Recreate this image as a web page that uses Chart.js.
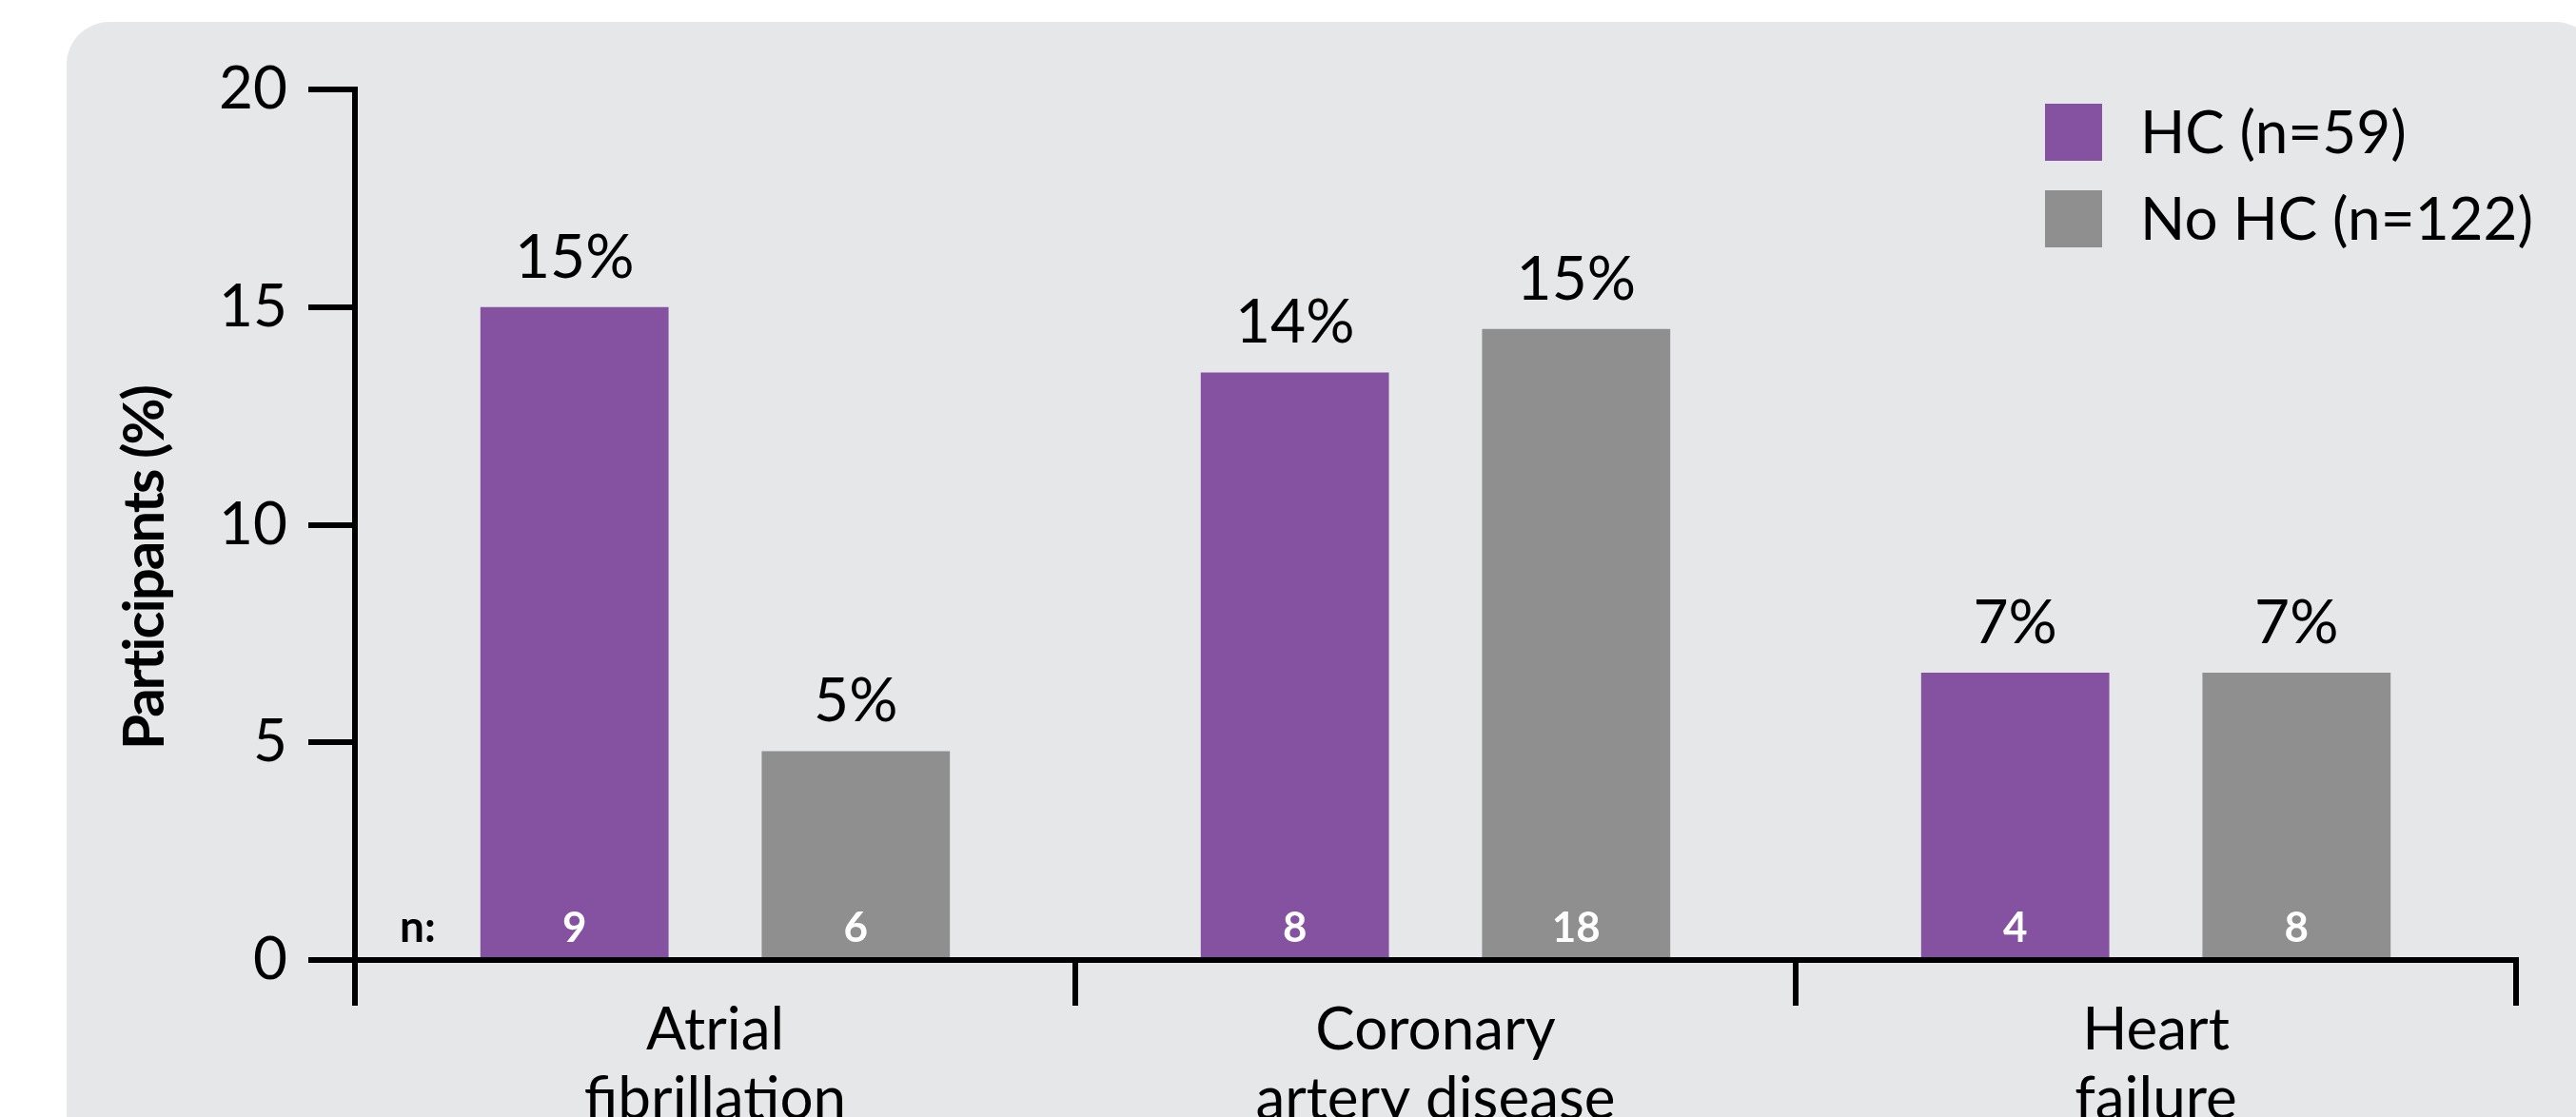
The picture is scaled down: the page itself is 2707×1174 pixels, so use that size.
<!DOCTYPE html>
<html>
<head>
<meta charset="utf-8">
<title>Participants by HC status</title>
<script src="https://cdn.jsdelivr.net/npm/chart.js@4.4.1/dist/chart.umd.min.js"></script>
<style>
    html, body { margin: 0; padding: 0; background: #fff; }
    #wrap { width: 2707px; height: 1174px; }
</style>
</head>
<body>
<div id="wrap"><canvas id="chart" width="2707" height="1174"></canvas></div>
<script>
"use strict";

// Chart data
var categories = [['Atrial', 'fibrillation'], ['Coronary', 'artery disease'], ['Heart', 'failure']];
var seriesNames = ['HC (n=59)', 'No HC (n=122)'];
var hcPercent = [15.0, 13.5, 6.6];
var noHcPercent = [4.8, 14.5, 6.6];
var hcCounts = [9, 8, 4];
var noHcCounts = [6, 18, 8];
var yTicks = [0, 5, 10, 15, 20];

var PURPLE = '#8552a1';
var GREY = '#8f8f8f';
var PANEL = '#e6e7e9';
var FONT = 'Lato';

// Rounded grey panel behind everything
var panelPlugin = {
    id: 'panel',
    beforeDraw: function (chart) {
        var ctx = chart.ctx;
        ctx.save();
        ctx.fillStyle = '#fff';
        ctx.fillRect(0, 0, chart.width, chart.height);
        ctx.fillStyle = PANEL;
        ctx.beginPath();
        ctx.roundRect(70, 23, 2660, 1300, 45);
        ctx.fill();
        ctx.restore();
    }
};

// Value labels, counts, axis title and legend
var labelsPlugin = {
    id: 'labels',
    afterDraw: function (chart) {
        var ctx = chart.ctx;
        var area = chart.chartArea;
        var counts = [hcCounts, noHcCounts];
        ctx.save();
        ctx.textAlign = 'center';
        ctx.textBaseline = 'alphabetic';

        chart.data.datasets.forEach(function (ds, di) {
            var meta = chart.getDatasetMeta(di);
            meta.data.forEach(function (bar, i) {
                ctx.fillStyle = '#000';
                ctx.font = '64px ' + FONT;
                ctx.fillText(Math.round(ds.data[i]) + '%', bar.x, bar.y - 31);
                ctx.fillStyle = '#fff';
                ctx.font = 'bold 44px ' + FONT;
                ctx.fillText(String(counts[di][i]), bar.x, bar.base - 16);
            });
        });

        // "n:" marker left of the first bar
        var first = chart.getDatasetMeta(0).data[0];
        var firstLeft = first.x - first.width / 2;
        ctx.fillStyle = '#000';
        ctx.font = 'bold 46px ' + FONT;
        ctx.fillText('n:', (area.left + firstLeft) / 2, first.base - 16);

        // y axis title
        ctx.save();
        ctx.translate(172, 597);
        ctx.rotate(-Math.PI / 2);
        ctx.font = 'bold 60px ' + FONT;
        if ('letterSpacing' in ctx) {
            ctx.letterSpacing = '-2px';
        }
        ctx.fillText('Participants (%)', 0, 0);
        ctx.restore();

        // legend
        ctx.textAlign = 'left';
        ctx.font = '62px ' + FONT;
        chart.data.datasets.forEach(function (ds, di) {
            var top = 109 + di * 91;
            ctx.fillStyle = ds.backgroundColor;
            ctx.fillRect(2149, top, 60, 60);
            ctx.fillStyle = '#000';
            ctx.fillText(ds.label, 2249, top + 52);
        });
        ctx.restore();
    }
};

function buildChart() {
    new Chart(document.getElementById('chart'), {
        type: 'bar',
        data: {
            labels: categories,
            datasets: [{
                label: seriesNames[0],
                data: hcPercent,
                backgroundColor: PURPLE,
                borderWidth: 0,
                categoryPercentage: 0.781,
                barPercentage: 0.669
            }, {
                label: seriesNames[1],
                data: noHcPercent,
                backgroundColor: GREY,
                borderWidth: 0,
                categoryPercentage: 0.781,
                barPercentage: 0.669
            }]
        },
        options: {
            responsive: false,
            animation: false,
            layout: {padding: {top: 94, right: 63, bottom: 0, left: 0}},
            plugins: {
                legend: {display: false},
                tooltip: {enabled: false}
            },
            scales: {
                x: {
                    z: 1,
                    offset: true,
                    grid: {
                        offset: true,
                        drawOnChartArea: false,
                        drawTicks: true,
                        tickLength: 48,
                        tickWidth: 6,
                        tickColor: '#000',
                        color: '#000',
                        lineWidth: 6
                    },
                    border: {display: true, color: '#000', width: 6},
                    ticks: {
                        color: '#000',
                        font: {family: FONT, size: 62, lineHeight: 1.18},
                        padding: -11,
                        maxRotation: 0,
                        autoSkip: false
                    },
                    afterFit: function (scale) { scale.height = 165; }
                },
                y: {
                    z: 1,
                    min: yTicks[0],
                    max: yTicks[yTicks.length - 1],
                    grid: {
                        drawOnChartArea: false,
                        drawTicks: true,
                        tickLength: 49,
                        tickWidth: 6,
                        tickColor: '#000',
                        color: '#000',
                        lineWidth: 6
                    },
                    border: {display: true, color: '#000', width: 6},
                    ticks: {
                        color: '#000',
                        font: {family: FONT, size: 62},
                        padding: 22
                    },
                    afterBuildTicks: function (scale) {
                        scale.ticks = yTicks.map(function (v) { return {value: v}; });
                    },
                    afterFit: function (scale) { scale.width = 373; }
                }
            }
        },
        plugins: [panelPlugin, labelsPlugin]
    });
}

if (document.fonts && document.fonts.load) {
    Promise.all([
        document.fonts.load('62px Lato'),
        document.fonts.load('bold 62px Lato')
    ]).then(buildChart, buildChart);
} else {
    buildChart();
}
</script>
</body>
</html>
